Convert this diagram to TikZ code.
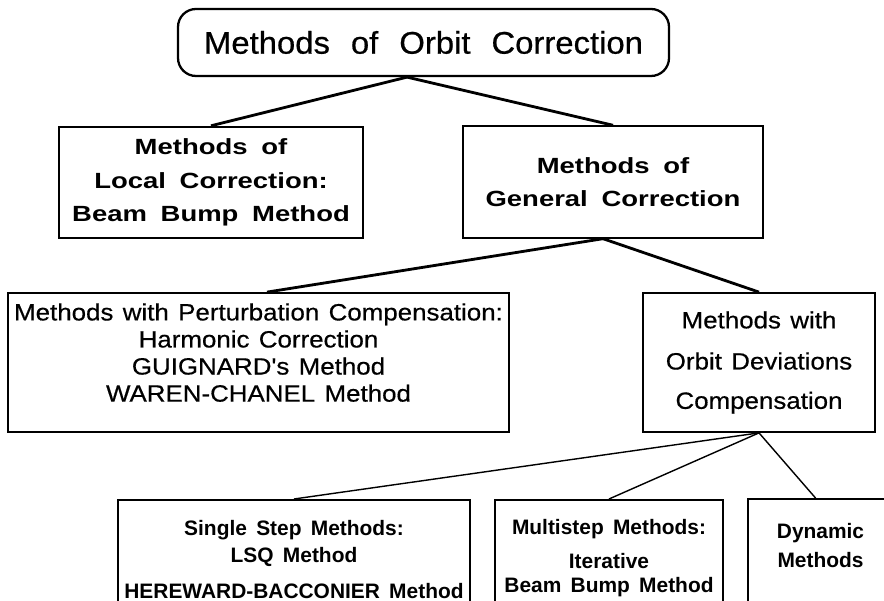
\documentclass[tikz,border=0pt]{standalone}
\usepackage{fontspec}
\setmainfont{Liberation Sans}
\newfontfamily\headfont[FakeStretch=1.05,WordSpace=2.3,FakeBold=0.6]{Liberation Sans}
\newfontfamily\widefont[FakeStretch=1.25,WordSpace=1.8]{Liberation Sans}
\newfontfamily\plainfont[FakeStretch=1.1,WordSpace=1.3,FakeBold=0.5]{Liberation Sans}
\newfontfamily\narrowfont[WordSpace=1.6]{Liberation Sans}

\begin{document}
\begin{tikzpicture}[mainbox/.style={rectangle,draw,line width=1.3pt,rounded corners=0.36cm,
                      minimum width=9.82cm, minimum height=1.34cm,
                      font=\headfont\fontsize{17.8}{20}\selectfont},
                    levelone/.style={rectangle,draw,line width=1.1pt,align=center,
                      minimum height=2.23cm,
                      font=\widefont\bfseries\fontsize{12.5}{19}\selectfont},
                    leveltwo/.style={rectangle,draw,line width=1pt,align=center,
                      minimum height=2.78cm,
                      font=\plainfont\fontsize{13.4}{15.4}\selectfont},
                    levelthree/.style={rectangle,draw,line width=0.9pt,align=center,
                      anchor=north, minimum height=2.4cm,
                      font=\narrowfont\bfseries\fontsize{11.9}{15.4}\selectfont},
                    branch/.style={line width=1.6pt},
                    twig/.style={line width=0.8pt}]

\useasboundingbox (0,0) rectangle (17.68,12.02);
\clip (0,0) rectangle (17.68,12.02);

\draw (8.47,11.17) node[mainbox] (orbit) {Methods of Orbit Correction};

\draw (4.22,8.37) node[levelone, minimum width=6.08cm] (local)
      {Methods of\\Local Correction:\\Beam Bump Method}
      (12.26,8.38) node[levelone, minimum width=6.0cm] (general)
      {Methods of\\General Correction};

\draw (5.17,4.77) node[leveltwo, minimum width=9.94cm] (perturb)
      {Methods with Perturbation Compensation:\\Harmonic Correction\\
       GUIGNARD's Method\\WAREN-CHANEL Method\\[-4pt]\mbox{}}
      (15.18,4.77) node[leveltwo, minimum width=4.64cm] (deviation)
      {Methods with\\[8pt]Orbit Deviations\\[7pt]Compensation};

\draw (5.88,2.04) node[levelthree, minimum width=7.04cm] (single)
      {Single Step Methods:\\LSQ Method\\[5pt]HEREWARD-BACCONIER Method}
      (12.18,2.04) node[levelthree, minimum width=4.56cm] (multi)
      {Multistep Methods:\\[4pt]Iterative\\[-1.7pt]Beam Bump Method\\[-11pt]\mbox{}}
      (16.41,2.06) node[levelthree, minimum width=2.9cm] (dynamic)
      {Dynamic\\[1pt]Methods\\\mbox{}};

\draw[branch] ([xshift=-0.33cm]orbit.south) -- (local.north);
\draw[branch] ([xshift=-0.33cm]orbit.south) -- (general.north);
\draw[branch] ([xshift=-0.2cm]general.south) -- ([xshift=0.17cm]perturb.north);
\draw[branch] ([xshift=-0.2cm]general.south) -- (deviation.north);
\draw[twig] (deviation.south) -- (single.north);
\draw[twig] (deviation.south) -- (multi.north);
\draw[twig] (deviation.south) -- ([xshift=-0.1cm]dynamic.north);

\end{tikzpicture}
\end{document}
